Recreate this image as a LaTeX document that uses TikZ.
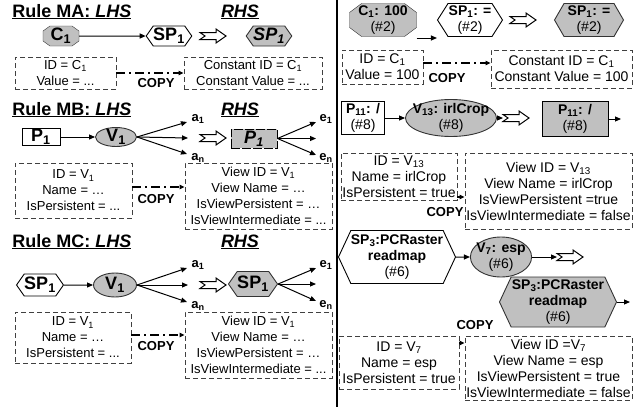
\documentclass[tikz,border=0pt]{standalone}
\usepackage{fontspec}
\setmainfont{Liberation Sans}
\usepackage{tikz}
\usetikzlibrary{positioning, arrows.meta, shapes.geometric, shapes.symbols, backgrounds}
\definecolor{gtGray}{HTML}{C0C0C0}
\definecolor{gtEdge}{HTML}{333333}
\newcommand{\titlefont}{\fontsize{18pt}{21pt}\selectfont\bfseries}
\newcommand{\elemfont}{\fontsize{18pt}{20pt}\selectfont\bfseries}
\newcommand{\instfont}{\fontsize{14pt}{16pt}\selectfont\bfseries}
\newcommand{\attrfont}{\fontsize{13pt}{16pt}\selectfont}
\newcommand{\attrbig}{\fontsize{14pt}{16pt}\selectfont}
\newcommand{\tagfont}{\fontsize{13pt}{15pt}\selectfont\bfseries}
\newcommand{\sbs}[1]{\textsubscript{#1}}
% octagon drawn behind a named node: node, corner cut x, corner cut y
\newcommand{\octaframe}[3]{%
  \begin{scope}[on background layer]
    \filldraw[gry] ([xshift=#2]#1.north west) -- ([xshift=-#2]#1.north east) -- ([yshift=-#3]#1.north east)
      -- ([yshift=#3]#1.south east) -- ([xshift=-#2]#1.south east) -- ([xshift=#2]#1.south west)
      -- ([yshift=#3]#1.south west) -- ([yshift=-#3]#1.north west) -- cycle;
  \end{scope}}

\begin{document}
\begin{tikzpicture}[x=1pt, y=-1pt, line width=0.9pt,
  ttl/.style={font=\titlefont, inner sep=0pt},
  elem/.style={draw, inner sep=0pt, font=\elemfont},
  inst/.style={draw, inner sep=0pt, align=center, font=\instfont},
  gry/.style={fill=gtGray, draw=gtEdge},
  hexa/.style={shape=signal, signal to=east and west, signal pointer angle=110},
  octa/.style={draw=none, outer sep=0pt},
  attr/.style={draw=black!75, dash pattern=on 5pt off 3pt, align=center, inner sep=0pt, font=\attrfont},
  attrR/.style={attr, font=\attrbig},
  tag/.style={font=\tagfont, inner sep=0pt},
  arr/.style={-{Triangle[length=6pt,width=5pt]}, line width=1pt},
  copyline/.style={-{Triangle[length=5pt,width=4.5pt]}, line width=1.2pt, dash pattern=on 9pt off 4pt on 2pt off 4pt},
  rewrite/.pic={\draw[line width=1pt] (-13,-3.5) -- (3,-3.5) -- (3,-7) -- (13,0) -- (3,7) -- (3,3.5) -- (-13,3.5) -- (-8,0) -- cycle;}]
  \useasboundingbox (0,0) rectangle (644,407);

  % divider
  \draw[line width=2.5pt] (337,0) -- (337,407);

  % Rule MA
  \node[ttl, anchor=base west] (tMA) at (12,17) {\underline{Rule MA: \textit{LHS}}};
  \node[ttl, anchor=base] (tMAr) at (240,17) {\underline{\textit{RHS}}};
  \node[elem, octa, minimum width=36pt, minimum height=20pt] (maC) at (61,36) {C\sbs{1}};
  \octaframe{maC}{7pt}{5pt}
  \node[elem, hexa, minimum width=44pt, minimum height=20pt] (maSP) at (169,36) {SP\sbs{1}};
  \node[elem, gry, hexa, minimum width=42pt, minimum height=20pt] (maSPr) at (269,36) {\textit{SP\sbs{1}}};
  \draw[arr] (maC) -- (maSP);
  \pic at (213,36) {rewrite};
  \node[attr, minimum width=101pt, minimum height=32pt] (maL) at (65.5,73) {ID = C\sbs{1}\\Value = ...};
  \node[attr, minimum width=138pt, minimum height=32pt] (maR) at (253,73) {Constant ID = C\sbs{1}\\Constant Value = ...};
  \draw[copyline] (maL.east) -- (maR.west);
  \node[tag] (cMA) at (156,83) {COPY};

  % Rule MB
  \node[ttl, anchor=base west] (tMB) at (12,115) {\underline{Rule MB: \textit{LHS}}};
  \node[ttl, anchor=base] (tMBr) at (240,115) {\underline{\textit{RHS}}};
  \node[elem, minimum width=38pt, minimum height=17pt] (mbP) at (41,137) {P\sbs{1}};
  \node[elem, gry, ellipse, inner ysep=-2pt, minimum width=41pt, minimum height=19pt] (mbV) at (116,137) {V\sbs{1}};
  \draw[arr] (mbP) -- (mbV);
  \coordinate (mbA1) at (187,122);
  \coordinate (mbAm) at (188,138);
  \coordinate (mbAn) at (187,154);
  \draw[arr] (mbV.east) -- (mbA1);
  \draw[arr] (mbV.east) -- (mbAm);
  \draw[arr] (mbV.east) -- (mbAn);
  \node[tag] (mbLa1) at (198,119) {a\sbs{1}};
  \node[tag] (mbLan) at (198,158) {a\sbs{n}};
  \pic at (213,138) {rewrite};
  \node[elem, gry, draw=black, dash pattern=on 9pt off 2pt, minimum width=46pt, minimum height=19pt] (mbPr) at (254,138.5) {\textit{P\sbs{1}}};
  \coordinate (mbE1) at (316,122);
  \coordinate (mbEm) at (316,138.5);
  \coordinate (mbEn) at (316,155);
  \draw[arr] (mbPr.east) -- (mbE1);
  \draw[arr] (mbPr.east) -- (mbEm);
  \draw[arr] (mbPr.east) -- (mbEn);
  \node[tag] (mbLe1) at (326,119) {e\sbs{1}};
  \node[tag] (mbLen) at (326,158) {e\sbs{n}};
  \node[attr, minimum width=117pt, minimum height=55pt] (mbL) at (73.5,190.5) {ID = V\sbs{1}\\Name = …\\IsPersistent = ...};
  \node[attr, minimum width=147pt, minimum height=66pt] (mbR) at (258.5,196) {View ID = V\sbs{1}\\View Name = …\\IsViewPersistent = …\\IsViewIntermediate = ...};
  \draw[copyline] ([yshift=3.5pt]mbL.east) -- ([yshift=3.5pt]mbL.east -| mbR.west);
  \node[tag] (cMB) at (156,199) {COPY};

  % Rule MC
  \node[ttl, anchor=base west] (tMC) at (12,247) {\underline{Rule MC: \textit{LHS}}};
  \node[ttl, anchor=base] (tMCr) at (240,247) {\underline{\textit{RHS}}};
  \node[elem, hexa, minimum width=44pt, minimum height=22pt] (mcSP) at (40,285) {SP\sbs{1}};
  \node[elem, gry, ellipse, minimum width=43pt, minimum height=24pt] (mcV) at (115,285) {V\sbs{1}};
  \draw[arr] (mcSP) -- (mcV);
  \coordinate (mcA1) at (187,268);
  \coordinate (mcAm) at (188,285);
  \coordinate (mcAn) at (187,302);
  \draw[arr] (mcV.east) -- (mcA1);
  \draw[arr] (mcV.east) -- (mcAm);
  \draw[arr] (mcV.east) -- (mcAn);
  \node[tag] (mcLa1) at (198,265) {a\sbs{1}};
  \node[tag] (mcLan) at (198,306) {a\sbs{n}};
  \pic at (213,285) {rewrite};
  \node[elem, gry, hexa, minimum width=47pt, minimum height=25pt] (mcSPr) at (253,284) {SP\sbs{1}};
  \coordinate (mcE1) at (316,268);
  \coordinate (mcEm) at (316,284);
  \coordinate (mcEn) at (316,301);
  \draw[arr] (mcSPr.east) -- (mcE1);
  \draw[arr] (mcSPr.east) -- (mcEm);
  \draw[arr] (mcSPr.east) -- (mcEn);
  \node[tag] (mcLe1) at (326,265) {e\sbs{1}};
  \node[tag] (mcLen) at (326,305) {e\sbs{n}};
  \node[attr, minimum width=116pt, minimum height=51pt] (mcL) at (73,337.5) {ID = V\sbs{1}\\Name = …\\IsPersistent = ...};
  \node[attr, minimum width=147pt, minimum height=66pt] (mcR) at (258.5,345) {View ID = V\sbs{1}\\View Name = …\\IsViewPersistent = …\\IsViewIntermediate = ...};
  \draw[copyline] ([yshift=2.5pt]mcL.east) -- ([yshift=2.5pt]mcL.east -| mcR.west);
  \node[tag] (cMC) at (156,346) {COPY};

  % instance: constant
  \node[inst, octa, minimum width=67pt, minimum height=33pt] (rC) at (383,20) {C\sbs{1}: 100\\\mdseries(\#2)};
  \octaframe{rC}{12pt}{9pt}
  \node[inst, hexa, signal pointer angle=115, minimum width=65pt, minimum height=33pt] (rSP) at (470,20) {SP\sbs{1}: =\\\mdseries(\#2)};
  \draw[arr] ([yshift=-18pt]rC.east) -- ([yshift=-18pt]rSP.west);
  \pic at (523,20) {rewrite};
  \node[inst, gry, hexa, signal pointer angle=120, minimum width=69pt, minimum height=33pt] (rSPr) at (589,20) {SP\sbs{1}: =\\\mdseries(\#2)};
  \node[attrR, minimum width=81pt, minimum height=34pt] (raL) at (382.5,67) {ID = C\sbs{1}\\Value = 100};
  \node[attrR, minimum width=141pt, minimum height=38pt] (raR) at (561.5,69) {Constant ID = C\sbs{1}\\Constant Value = 100};
  \draw[copyline] ([yshift=4pt]raL.east) -- ([yshift=4pt]raL.east -| raR.west);
  \node[tag] (cRA) at (447,78) {COPY};

  % instance: view
  \node[inst, minimum width=43pt, minimum height=33pt] (rP) at (363,118) {P\sbs{11}: /\\\mdseries(\#8)};
  \node[inst, gry, ellipse, inner xsep=-7pt, inner ysep=-2pt, minimum width=91pt, minimum height=37pt] (rV) at (451,118) {V\sbs{13}: irlCrop\\\mdseries(\#8)};
  \draw[arr] (rP) -- (rV);
  \coordinate (rVto) at (503,118);
  \draw[arr] (rV.east) -- (rVto);
  \pic at (516,118) {rewrite};
  \node[inst, gry, draw=black, minimum width=66pt, minimum height=35pt] (rPr) at (575,119) {P\sbs{11}: /\\\mdseries(\#8)};
  \coordinate (rPout) at (621,119);
  \draw[arr] (rPr.east) -- (rPout);
  \node[attrR, minimum width=116pt, minimum height=47pt] (rbL) at (399,176.5) {ID = V\sbs{13}\\Name = irlCrop\\IsPersistent = true};
  \node[attrR, minimum width=167pt, minimum height=76pt] (rbR) at (548.5,191) {View ID = V\sbs{13}\\View Name = irlCrop\\IsViewPersistent =true\\IsViewIntermediate = false};
  \draw[copyline] ([yshift=-20.5pt]rbL.east) -- ([yshift=-20.5pt]rbL.east -| rbR.west);
  \node[tag] (cRB) at (445,212) {COPY};

  % instance: source
  \node[inst, hexa, signal pointer angle=130, minimum width=113pt, minimum height=53pt] (rS) at (397,257) {SP\sbs{3}:PCRaster\\readmap\\\mdseries(\#6)};
  \node[inst, gry, ellipse, inner xsep=-3pt, inner ysep=-1pt, minimum width=58pt, minimum height=40pt] (rV7) at (501,257) {V\sbs{7}: esp\\\mdseries(\#6)};
  \draw[arr] (rS) -- (rV7);
  \coordinate (rV7to) at (557,257);
  \draw[arr] (rV7.east) -- (rV7to);
  \pic at (570,257) {rewrite};
  \node[inst, gry, hexa, signal pointer angle=130, minimum width=117pt, minimum height=50pt] (rSr) at (558,302) {SP\sbs{3}:PCRaster\\readmap\\\mdseries(\#6)};
  \coordinate (rSout) at (630,302);
  \draw[arr] (rSr.east) -- (rSout);
  \node[tag] (cRC) at (475,325) {COPY};
  \node[attrR, minimum width=120pt, minimum height=53pt] (rcL) at (399,362.5) {ID = V\sbs{7}\\Name = esp\\IsPersistent = true};
  \node[attrR, minimum width=167pt, minimum height=64pt] (rcR) at (548.5,368) {View ID =V\sbs{7}\\View Name = esp\\IsViewPersistent = true\\IsViewIntermediate = false};
  \draw[copyline] ([yshift=19.5pt]rcL.east) -- ([yshift=19.5pt]rcL.east -| rcR.west);
\end{tikzpicture}
\end{document}
